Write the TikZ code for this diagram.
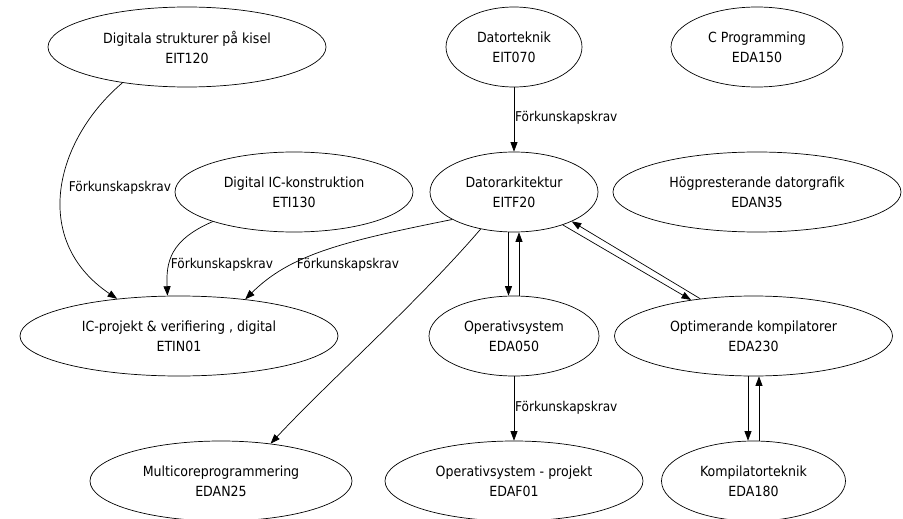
\documentclass[tikz,border=0pt]{standalone}
\usepackage{fontspec}
\setmainfont{DejaVu Sans Condensed}
\usetikzlibrary{shapes.geometric,arrows.meta}
\tikzset{
  course/.style={draw, ellipse, inner sep=0pt, align=center, line width=0.7pt,
    font=\fontsize{14}{20}\selectfont},
  edge/.style={draw, line width=0.7pt, -{Triangle[length=9.5pt,width=7pt]}},
  elabel/.style={font=\fontsize{13.5}{16}\selectfont, inner sep=0pt}
}
\begin{document}
\begin{tikzpicture}[x=1pt,y=-1pt]
\useasboundingbox (0,0) rectangle (903,519);
% nodes
\node[course, minimum width=278pt, minimum height=80pt] (eit120) at (187,47) {Digitala strukturer på kisel\\EIT120};
\node[course, minimum width=136pt, minimum height=80pt] (eit070) at (514,47) {Datorteknik\\EIT070};
\node[course, minimum width=172pt, minimum height=80pt] (eda150) at (757,47) {C Programming\\EDA150};
\node[course, minimum width=238pt, minimum height=80pt] (eti130) at (294,192) {Digital IC-konstruktion\\ETI130};
\node[course, minimum width=168pt, minimum height=80pt] (eitf20) at (514,192) {Datorarkitektur\\EITF20};
\node[course, minimum width=288pt, minimum height=80pt] (edan35) at (757,192) {Högpresterande datorgrafik\\EDAN35};
\node[course, minimum width=318pt, minimum height=80pt] (etin01) at (179,336) {IC-projekt \& verifiering , digital\\ETIN01};
\node[course, minimum width=170pt, minimum height=80pt] (eda050) at (514,336) {Operativsystem\\EDA050};
\node[course, minimum width=278pt, minimum height=80pt] (eda230) at (753.5,336) {Optimerande kompilatorer\\EDA230};
\node[course, minimum width=262pt, minimum height=80pt] (edan25) at (221,481) {Multicoreprogrammering\\EDAN25};
\node[course, minimum width=258pt, minimum height=80pt] (edaf01) at (514,481) {Operativsystem - projekt\\EDAF01};
\node[course, minimum width=184pt, minimum height=80pt] (eda180) at (753.5,481) {Kompilatorteknik\\EDA180};
% edges
\draw[edge] (eit120.209.6) .. controls (55,140) and (30,240) .. (etin01.149.2);
\node[elabel] (l1) at (120,188) {Förkunskapskrav};
\draw[edge] (eti130.200.3) .. controls (170,240) and (166,262) .. (etin01.106.7);
\node[elabel] (l2) at (222,265) {Förkunskapskrav};
\draw[edge] (eitf20.204.7) .. controls (340,242) and (290,255) .. (etin01.29.9);
\node[elabel] (l3) at (348,265) {Förkunskapskrav};
\draw[edge] (eit070.south) -- (eitf20.north);
\node[elabel, anchor=west] (l4) at (515,118) {Förkunskapskrav};
\draw[edge] ([xshift=-5.5pt]eitf20.south) -- ([xshift=-5.5pt]eda050.north);
\draw[edge] ([xshift=5pt]eda050.north) -- ([xshift=5pt]eitf20.south);
\draw[edge] (eitf20.228.4) .. controls (420,300) and (330,380) .. (edan25.37.4);
\draw[edge] (eda230.145.8) -- (eitf20.-27.8);
\draw[edge] (eitf20.-34.2) -- (eda230.150.4);
\draw[edge] (eda050.south) -- (edaf01.north);
\node[elabel, anchor=west] (l5) at (515,408) {Förkunskapskrav};
\draw[edge] ([xshift=-5.5pt]eda230.south) -- ([xshift=-5.5pt]eda180.north);
\draw[edge] ([xshift=5.5pt]eda180.north) -- ([xshift=5.5pt]eda230.south);
\end{tikzpicture}
\end{document}
